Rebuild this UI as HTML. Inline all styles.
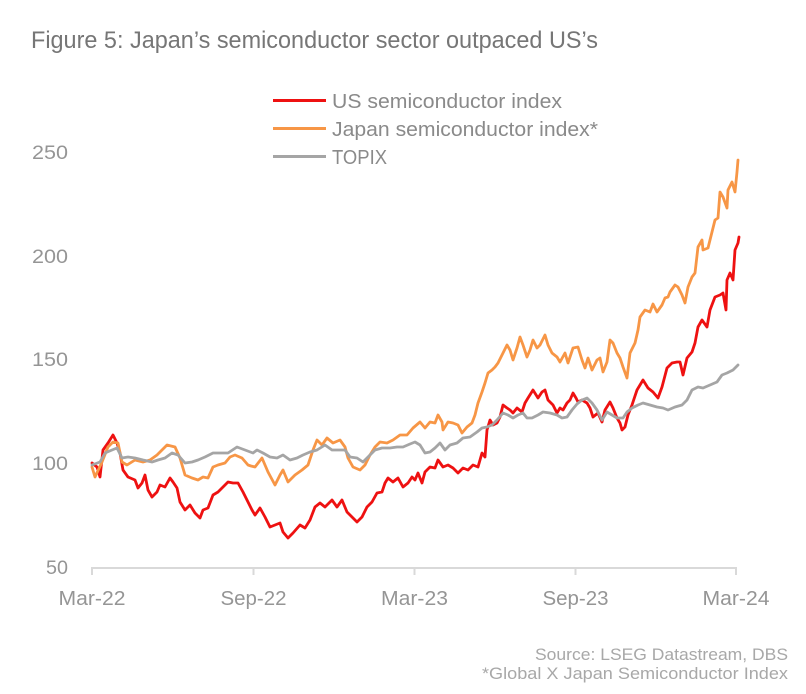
<!DOCTYPE html>
<html>
<head>
<meta charset="utf-8">
<style>
  html, body { margin: 0; padding: 0; background: #ffffff; }
  svg { display: block; }
  text { font-family: "Liberation Sans", "DejaVu Sans", sans-serif; }
</style>
</head>
<body>
<svg width="806" height="694" viewBox="0 0 806 694" xmlns="http://www.w3.org/2000/svg">
  <rect x="0" y="0" width="806" height="694" fill="#ffffff"/>

  <!-- Title -->
  <text x="31" y="48" font-size="24" fill="#767676" textLength="567" lengthAdjust="spacingAndGlyphs">Figure 5: Japan’s semiconductor sector outpaced US’s</text>

  <!-- Legend -->
  <line x1="273" y1="100.5" x2="326" y2="100.5" stroke="#ee1111" stroke-width="3"/>
  <line x1="273" y1="128.5" x2="326" y2="128.5" stroke="#f79646" stroke-width="3"/>
  <line x1="273" y1="156.5" x2="326" y2="156.5" stroke="#a5a5a5" stroke-width="3"/>
  <text x="332" y="108" font-size="20" fill="#8a8a8a" textLength="230" lengthAdjust="spacingAndGlyphs">US semiconductor index</text>
  <text x="332" y="136" font-size="20" fill="#8a8a8a" textLength="266" lengthAdjust="spacingAndGlyphs">Japan semiconductor index*</text>
  <text x="332" y="164" font-size="20" fill="#8a8a8a" textLength="55" lengthAdjust="spacingAndGlyphs">TOPIX</text>

  <!-- Y axis labels -->
  <g font-size="19.5" fill="#959595" text-anchor="end">
    <text x="68" y="159" textLength="36" lengthAdjust="spacingAndGlyphs">250</text>
    <text x="68" y="263" textLength="36" lengthAdjust="spacingAndGlyphs">200</text>
    <text x="68" y="366" textLength="36" lengthAdjust="spacingAndGlyphs">150</text>
    <text x="68" y="470" textLength="36" lengthAdjust="spacingAndGlyphs">100</text>
    <text x="68" y="574" textLength="22" lengthAdjust="spacingAndGlyphs">50</text>
  </g>

  <!-- X axis -->
  <line x1="91" y1="568" x2="737" y2="568" stroke="#d9d9d9" stroke-width="2"/>
  <g stroke="#d9d9d9" stroke-width="2">
    <line x1="92" y1="568" x2="92" y2="575"/>
    <line x1="253.5" y1="568" x2="253.5" y2="575"/>
    <line x1="414.5" y1="568" x2="414.5" y2="575"/>
    <line x1="575.5" y1="568" x2="575.5" y2="575"/>
    <line x1="736" y1="568" x2="736" y2="575"/>
  </g>
  <g font-size="20" fill="#959595" text-anchor="middle">
    <text x="92" y="605" textLength="67" lengthAdjust="spacingAndGlyphs">Mar-22</text>
    <text x="253.5" y="605" textLength="66" lengthAdjust="spacingAndGlyphs">Sep-22</text>
    <text x="414.5" y="605" textLength="67" lengthAdjust="spacingAndGlyphs">Mar-23</text>
    <text x="575.5" y="605" textLength="66" lengthAdjust="spacingAndGlyphs">Sep-23</text>
    <text x="736" y="605" textLength="67" lengthAdjust="spacingAndGlyphs">Mar-24</text>
  </g>

  <!-- Series: US semiconductor index (red) -->
  <polyline fill="none" stroke="#ee1111" stroke-width="2.8" stroke-linejoin="round" stroke-linecap="round"
    points="92,463 97,467 100,477 103,450 108,443 113,435 117,443 120,453 123,470 128,477 135,480 138,488 142,483 145,475 148,490 152,497 157,492 160,485 165,487 170,478 173,482 177,488 180,502 185,510 190,505 195,513 200,518 203,510 208,508 213,495 218,492 223,487 228,482 233,483 238,483 243,492 248,502 252,510 255,515 260,508 265,517 270,527 275,525 280,523 283,532 288,538 293,533 300,525 305,528 310,520 315,507 320,503 325,507 332,500 337,507 342,500 347,512 352,517 357,522 362,517 367,507 372,502 377,493 382,492 385,483 388,478 393,482 398,478 403,487 408,483 412,477 415,480 418,473 422,483 425,472 430,467 435,468 438,460 443,467 448,465 453,468 458,473 463,468 468,470 473,465 478,467 482,453 485,457 487,430 490,420 493,425 497,423 500,417 503,405 507,408 510,410 513,413 517,408 522,412 525,403 528,398 533,390 538,398 542,392 545,390 548,400 553,405 557,413 560,408 563,410 567,403 570,400 573,393 576,398 578,402 582,400 587,403 590,408 593,417 598,413 602,422 605,410 610,402 613,408 617,418 620,423 622,430 625,427 628,415 632,405 637,390 640,385 643,380 648,388 653,392 658,398 662,387 667,368 672,363 677,362 680,362 683,375 687,358 692,352 695,343 698,327 702,320 707,327 710,310 715,297 720,295 723,293 726,310 727,280 730,273 733,280 735,250 738,243 739,237"/>

  <!-- Series: Japan semiconductor index (orange) -->
  <polyline fill="none" stroke="#f79646" stroke-width="2.8" stroke-linejoin="round" stroke-linecap="round"
    points="92,467 95,477 102,462 108,447 113,442 118,443 122,462 127,465 135,460 143,462 150,460 157,455 167,445 175,447 180,458 185,475 192,478 198,480 203,477 208,478 213,467 218,465 225,463 230,457 235,455 242,458 248,465 251,466 255,467 262,458 268,472 275,485 280,475 283,470 288,482 295,475 302,470 308,465 313,450 317,440 322,445 327,438 333,443 340,440 345,447 348,458 353,467 360,470 365,465 370,455 375,447 380,442 387,443 393,440 400,435 407,435 413,428 420,422 425,428 430,422 435,423 438,415 442,422 443,430 448,422 453,423 458,425 462,433 467,427 472,423 475,415 478,403 482,392 485,383 488,373 492,370 495,367 498,363 503,353 507,345 510,350 513,360 517,348 520,337 523,345 527,357 530,350 533,340 537,348 540,345 545,335 548,345 552,353 557,357 560,362 565,353 568,363 573,348 578,347 582,360 585,368 588,358 592,370 597,360 600,358 603,372 607,362 610,340 613,343 617,353 620,358 623,367 627,378 630,353 635,343 638,330 640,317 645,310 650,312 653,304 657,312 662,305 665,298 668,297 670,292 675,285 678,287 682,295 685,303 688,287 692,277 695,273 698,247 702,240 703,250 708,248 710,240 713,228 715,220 718,218 720,192 723,197 727,208 728,190 732,182 735,192 737,172 738,160"/>

  <!-- Series: TOPIX (gray) -->
  <polyline fill="none" stroke="#a5a5a5" stroke-width="2.8" stroke-linejoin="round" stroke-linecap="round"
    points="92,465 100,462 105,453 112,450 117,448 122,458 128,457 135,458 143,460 152,462 158,460 165,458 172,453 178,455 185,463 192,462 198,460 205,457 213,453 222,453 228,453 237,447 245,450 253,453 257,450 263,453 270,457 277,458 283,455 290,460 297,458 303,455 310,452 317,450 325,445 332,450 338,450 345,450 350,457 357,458 363,462 368,457 375,450 382,448 390,448 397,447 403,447 410,444 415,442 420,445 425,453 430,452 435,448 440,443 445,450 450,445 457,443 463,438 470,437 477,432 482,428 487,427 492,425 497,420 503,413 508,415 513,418 518,415 523,413 527,418 532,418 538,415 543,412 550,413 557,415 562,418 567,417 572,410 577,404 582,400 587,398 592,403 597,410 602,420 607,412 612,415 617,418 623,418 627,412 632,408 638,405 643,403 650,405 657,407 663,408 668,410 675,407 682,405 687,400 692,390 698,387 703,388 710,385 717,382 722,375 727,373 733,370 738,365"/>

  <!-- Source -->
  <g font-size="16.5" fill="#a8a8a8" text-anchor="end">
    <text x="788" y="660" textLength="253" lengthAdjust="spacingAndGlyphs">Source: LSEG Datastream, DBS</text>
    <text x="788" y="679" textLength="306" lengthAdjust="spacingAndGlyphs">*Global X Japan Semiconductor Index</text>
  </g>
</svg>
</body>
</html>
